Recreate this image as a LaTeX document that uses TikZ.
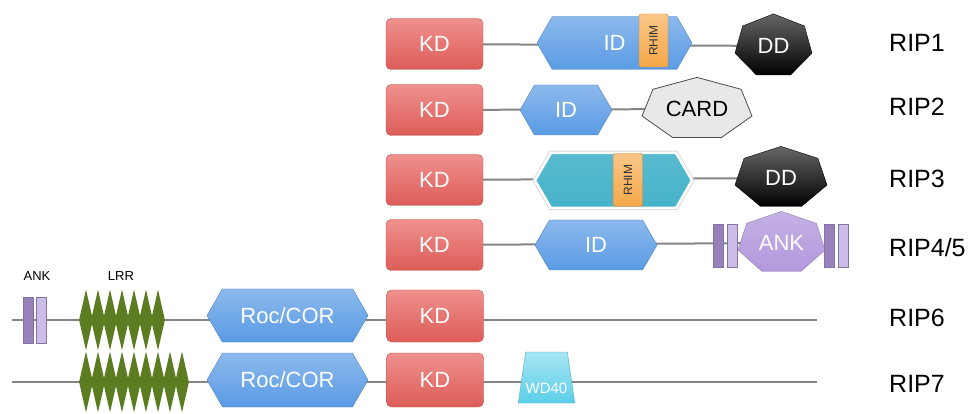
\documentclass[tikz,border=0pt]{standalone}
\usepackage{fontspec}
\setmainfont{Liberation Sans}
\usetikzlibrary{shapes.geometric,shapes.symbols,backgrounds,positioning}
\pgfdeclarelayer{domain}
\pgfsetlayers{background,domain,main}

\definecolor{kdred}{HTML}{E8615C}
\definecolor{idblue}{HTML}{5A9BE4}
\definecolor{ripcyan}{HTML}{46B3CA}
\definecolor{rhimorange}{HTML}{F6A848}
\definecolor{cardgray}{HTML}{E8E8E8}
\definecolor{ankpurple}{HTML}{B198DC}
\definecolor{lrrgreen}{HTML}{5C7C21}
\definecolor{wdcyan}{HTML}{5CCFE9}
\definecolor{linegray}{HTML}{858585}

\newcommand{\domainfont}{\fontsize{22}{26}\selectfont}
% heptagon round a node: style, node, x radius, y radius
\newcommand{\heptagon}[4]{%
  \path[#1,shift={(#2.center)}] (90:#3pt and #4pt)
    \foreach \k in {1,...,6}{ -- (90+\k*360/7:#3pt and #4pt)} -- cycle;}

\tikzstyle{kdbox} = [rectangle, rounded corners=5pt, minimum width=97, minimum height=51,
  inner sep=0pt, top color=kdred!70!white, bottom color=kdred!95!black,
  draw=kdred!85!black, text=white, font=\domainfont]
\tikzstyle{hexbox} = [signal, signal to=east and west, signal pointer angle=120,
  inner sep=0pt, top color=idblue!70!white, bottom color=idblue,
  draw=idblue!85!black, text=white, font=\domainfont]
\tikzstyle{rhimbox} = [rectangle, rounded corners=1.5pt, rotate=90, minimum width=53,
  minimum height=29, inner sep=0pt, top color=rhimorange!65!white,
  bottom color=rhimorange, draw=rhimorange!80!black, text=black!80,
  font=\fontsize{12}{14}\selectfont]
\tikzstyle{heptnode} = [rectangle, inner sep=0pt, font=\domainfont]
\tikzstyle{ankbar} = [rectangle, minimum width=10, inner sep=0pt, draw=ankpurple!75!black,
  line width=0.4pt]
\tikzstyle{lrr} = [diamond, minimum width=14, minimum height=61, inner sep=0pt, fill=lrrgreen]
\tikzstyle{rip} = [anchor=west, inner sep=0pt, font=\fontsize{25}{30}\selectfont]

\begin{document}
\begin{tikzpicture}[x=1pt,y=-1pt,
  backbone/.style={draw=linegray, line width=2pt},
  ddfill/.style={top color=black!60, bottom color=black, draw=black},
  small/.style={font=\fontsize{13}{15}\selectfont}]
\useasboundingbox (0,0) rectangle (978,414);

% RIP1
\node [kdbox] (kd1) at (434.5,44) {KD};
\node [hexbox, minimum width=155, minimum height=53] (id1) at (614.5,43) {ID};
\node [rhimbox] (rhim1) at (653.5,40.5) {RHIM};
\node [heptnode, text=white] (dd1) at (773.5,46) {DD};
\node [rip] (rip1) at (889,43) {RIP1};

% RIP2
\node [kdbox] (kd2) at (434.5,110) {KD};
\node [hexbox, minimum width=92, minimum height=50] (id2) at (566,110) {ID};
\node [heptnode] (card2) at (697,109) {CARD};
\node [rip] (rip2) at (889,107) {RIP2};

% RIP3
\node [kdbox] (kd3) at (434.5,180) {KD};
\node [hexbox, minimum width=157, minimum height=55, top color=ripcyan!90!white,
  bottom color=ripcyan, draw=white, line width=2.5pt,
  preaction={draw=black!15, line width=4.5pt}] (id3) at (613.5,180.5) {};
\node [rhimbox] (rhim3) at (628,180) {RHIM};
\node [heptnode, text=white] (dd3) at (781,178) {DD};
\node [rip] (rip3) at (889,179) {RIP3};

% RIP4/5
\node [kdbox] (kd4) at (434.5,245) {KD};
\node [hexbox, minimum width=122, minimum height=50] (id4) at (596,245) {ID};
\node [ankbar, minimum height=43, fill=ankpurple!85!black] (bar4a) at (718,246) {};
\node [ankbar, minimum height=43, fill=ankpurple!65!white] (bar4b) at (732,246) {};
\node [heptnode, text=white] (ank4) at (781.5,243) {ANK};
\node [ankbar, minimum height=43, fill=ankpurple!85!black] (bar4c) at (829,246) {};
\node [ankbar, minimum height=43, fill=ankpurple!65!white] (bar4d) at (843,246) {};
\node [rip] (rip4) at (889,248) {RIP4/5};

% RIP6
\coordinate (s6) at (12,320);
\coordinate (e6) at (817,320);
\node [ankbar, minimum height=46, fill=ankpurple!85!black] (bar6a) at (28,320) {};
\node [ankbar, minimum height=46, fill=ankpurple!65!white] (bar6b) at (41,320) {};
\node [small] (ankl) at (37,276) {ANK};
\foreach \k in {0,...,6}
  \node [lrr] (lrr6-\k) at (86+12*\k,320) {};
\node [small] (lrrl) at (121,276) {LRR};
\node [hexbox, minimum width=161, minimum height=53] (roc6) at (287.5,315.5) {Roc/COR};
\node [kdbox, minimum height=52] (kd6) at (435,316) {KD};
\node [rip] (rip6) at (889,318) {RIP6};

% RIP7
\coordinate (s7) at (12,382);
\coordinate (e7) at (817,382);
\foreach \k in {0,...,8}
  \node [lrr] (lrr7-\k) at (86+12*\k,382) {};
\node [hexbox, minimum width=161, minimum height=54] (roc7) at (287.5,380) {Roc/COR};
\node [kdbox, minimum height=54] (kd7) at (435,380) {KD};
\node [trapezium, trapezium stretches=true, trapezium left angle=77,
  trapezium right angle=77, minimum width=53, minimum height=51, inner sep=0pt,
  top color=wdcyan!55!white, bottom color=wdcyan, draw=wdcyan!85!black, text=white,
  font=\fontsize{15}{17}\selectfont, text height=32pt, text depth=0pt]
  (wd7) at (546.5,377.5) {WD40};
\node [rip] (rip7) at (889,384) {RIP7};

% heptagons under their texts
\begin{pgfonlayer}{domain}
\heptagon{ddfill}{dd1}{39.5}{32.1}
\heptagon{fill=cardgray, draw=black!70, line width=0.8pt}{card2}{56.4}{31.6}
\heptagon{ddfill}{dd3}{47.2}{31.6}
\heptagon{top color=ankpurple!75!white, bottom color=ankpurple,
  draw=ankpurple!80!black}{ank4}{44.6}{31.6}
\end{pgfonlayer}

\begin{scope}[on background layer]
\draw [backbone] (kd1.center) -- (dd1.center);
\draw [backbone] (kd2.center) -- (card2.center);
\draw [backbone] (kd3.center) -- (dd3.center);
\draw [backbone] (kd4.center) -- (ank4.center);
\draw [backbone] (s6) -- (e6);
\draw [backbone] (s7) -- (e7);
\end{scope}
\end{tikzpicture}
\end{document}
